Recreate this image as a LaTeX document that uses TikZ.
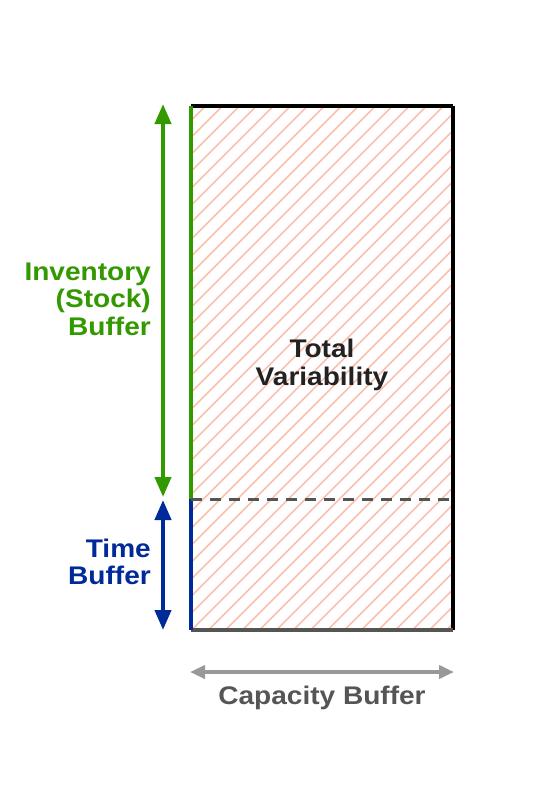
\documentclass[tikz,border=0pt]{standalone}
\usepackage{fontspec}
\setmainfont{Liberation Sans}[FakeStretch=1.1]
\usetikzlibrary{arrows.meta}
\definecolor{grn}{HTML}{339900}
\definecolor{blu}{HTML}{002A9A}
\definecolor{hatch}{HTML}{F9C0AE}
\definecolor{dgray}{HTML}{555555}
\definecolor{lgray}{HTML}{999999}
\definecolor{ink}{HTML}{222222}
\begin{document}
\begin{tikzpicture}[x=1pt,y=-1pt,
  lbl/.style={font=\fontsize{25.5}{27.5}\selectfont\bfseries, inner sep=0pt},
  dtip/.style={{Triangle[width=16pt,length=20pt]}-{Triangle[width=16pt,length=20pt]}},
  htip/.style={{Triangle[width=13pt,length=15pt]}-{Triangle[width=13pt,length=15pt]}}]
\useasboundingbox (0,0) rectangle (536,804);
\fill[white] (0,0) rectangle (536,804);
\coordinate (tl) at (191,105.5);
\coordinate (tr) at (452.5,105.5);
\coordinate (br) at (452.5,629.5);
\coordinate (bl) at (191,629.5);
\coordinate (ml) at (191,499);
\coordinate (mr) at (452.5,499);
% hatching
\begin{scope}
\clip (tl) rectangle (br);
\foreach \k in {0,1,...,50}{
  \draw[hatch, line width=1.7pt] (191+\k*17-560,629.5) -- ++(600,-600);
}
\end{scope}
% edges
\draw[black, line width=4pt] (tl) -- (tr);
\draw[black, line width=4pt] (tr) -- (br);
\draw[dgray, line width=4pt] (br) -- (bl);
\draw[grn, line width=4pt] (tl) -- (ml);
\draw[blu, line width=4pt] (ml) -- (bl);
\draw[dgray, line width=3pt, dash pattern=on 11pt off 8pt] (ml) -- (mr);
% arrows
\coordinate (ga) at (163,104);
\coordinate (gb) at (163,497);
\coordinate (ba) at (163,500);
\coordinate (bb) at (163,630);
\draw[grn, line width=4pt, dtip] (ga) -- (gb);
\draw[blu, line width=4pt, dtip] (ba) -- (bb);
\coordinate (ca) at (190,672);
\coordinate (cb) at (454,672);
\draw[lgray, line width=4pt, htip] (ca) -- (cb);
% labels
\node[lbl, text=ink, align=center] (tv) at (322,365) {Total\\Variability};
\node[lbl, text=grn, align=right, anchor=east] (inv) at (151,299) {Inventory\\(Stock)\\Buffer};
\node[lbl, text=blu, align=right, anchor=east] (tb) at (151,562) {Time\\Buffer};
\node[lbl, text=dgray] (cap) at (322,698) {Capacity Buffer};
\end{tikzpicture}
\end{document}
